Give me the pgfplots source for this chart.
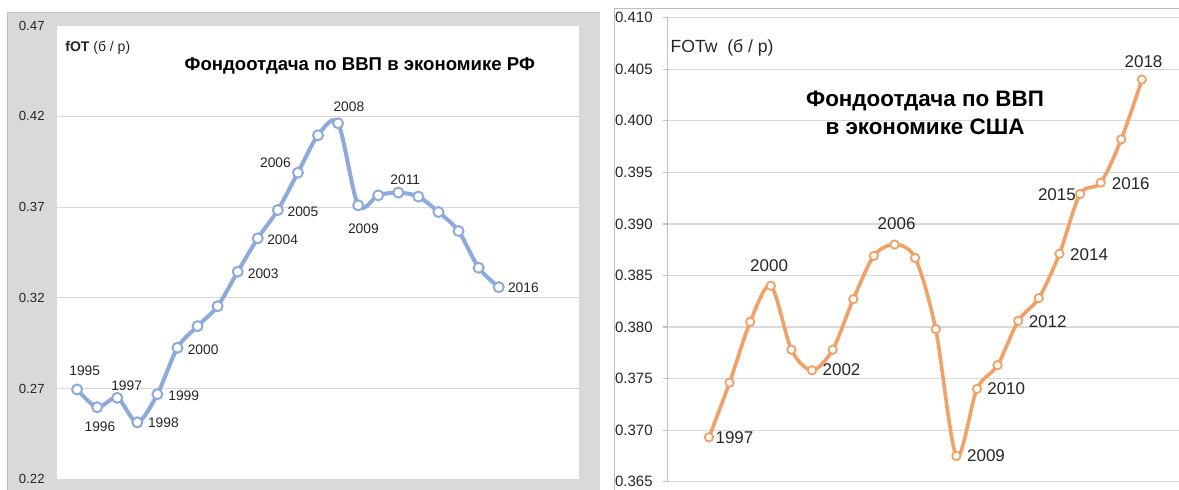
\documentclass[border=0pt]{standalone}
\usepackage{pgfplots}
\pgfplotsset{compat=1.18}
\usepackage{fontspec}
\setmainfont{Liberation Sans}
\definecolor{bluel}{HTML}{8EAADC}
\definecolor{orangel}{HTML}{F2A166}
\definecolor{gridc}{HTML}{D9D9D9}
\definecolor{framec}{HTML}{D9D9D9}
\definecolor{borderc}{HTML}{BFBFBF}
\definecolor{txt}{HTML}{262626}
\begin{document}
\begin{tikzpicture}
\path[use as bounding box] (0,0) rectangle (589.5pt,245pt);
\fill[framec] (3.5pt,0) rectangle (300pt,238.5pt);
\draw[borderc, line width=0.5pt] (3.5pt,0) -- (3.5pt,238.5pt) -- (300pt,238.5pt);
\draw[borderc, line width=0.5pt] (307pt,0) -- (307pt,240.5pt) -- (589.5pt,240.5pt);

% ---------- Left: Russia ----------
\begin{axis}[at={(28.5pt,5.35pt)}, anchor=south west, scale only axis,
  width=261pt, height=226.8pt,
  xmin=1994, xmax=2020, ymin=0.22, ymax=0.47,
  ytick={0.22,0.27,0.32,0.37,0.42,0.47},
  hide x axis, axis line style={draw=none},
  ymajorgrids, grid style={gridc, line width=0.6pt},
  major tick length=0pt,
  axis background/.style={fill=white},
  clip=false,
  /pgf/number format/assume math mode=true,
  y tick label style={/pgf/number format/.cd, fixed, fixed zerofill, precision=2, /tikz/.cd,
     font=\fontsize{6.6}{8}\selectfont, text=txt, inner sep=0pt, xshift=-6pt},
]
\addplot[bluel, line width=2pt, smooth, tension=0.5, mark=*, mark size=2.5pt,
  mark options={fill=white, draw=bluel, line width=1pt}] coordinates {
(1995,0.2695) (1996,0.2597) (1997,0.2649) (1998,0.2514) (1999,0.2669)
(2000,0.2925) (2001,0.3044) (2002,0.3154) (2003,0.3344) (2004,0.3528)
(2005,0.3684) (2006,0.3890) (2007,0.4096) (2008,0.4162) (2009,0.3710)
(2010,0.3765) (2011,0.3780) (2012,0.3758) (2013,0.3673) (2014,0.3568)
(2015,0.3366) (2016,0.3259)};
\begin{scope}[every node/.style={font=\fontsize{6.9}{8}\selectfont, text=txt, inner sep=0pt}]
\node at (axis cs:1995.38,0.2799) {1995};
\node at (axis cs:1996.14,0.2490) {1996};
\node at (axis cs:1997.47,0.2716) {1997};
\node at (axis cs:1999.30,0.2509) {1998};
\node at (axis cs:2000.31,0.2663) {1999};
\node at (axis cs:2001.28,0.2916) {2000};
\node at (axis cs:2004.27,0.3335) {2003};
\node at (axis cs:2005.24,0.3519) {2004};
\node at (axis cs:2006.25,0.3673) {2005};
\node at (axis cs:2004.88,0.3947) {2006};
\node at (axis cs:2008.54,0.4253) {2008};
\node at (axis cs:2009.26,0.3581) {2009};
\node at (axis cs:2011.35,0.3853) {2011};
\node at (axis cs:2017.23,0.3253) {2016};
\end{scope}
\end{axis}
\node[font=\fontsize{9.3}{11}\selectfont\bfseries, text=black] at (179.9pt,212pt) {Фондоотдача по ВВП в экономике РФ};
\node[anchor=west, inner sep=0pt, font=\fontsize{7}{8}\selectfont, text=txt] at (32.5pt,221.15pt) {\textbf{fOT} (б / р)};

% ---------- Right: USA ----------
\begin{axis}[at={(333.85pt,4.15pt)}, anchor=south west, scale only axis,
  width=255.65pt, height=232pt,
  xmin=1995, xmax=2019.8, ymin=0.365, ymax=0.410,
  ytick={0.365,0.370,0.375,0.380,0.385,0.390,0.395,0.400,0.405,0.410},
  hide x axis, axis y line*=left,
  y axis line style={borderc, line width=0.6pt},
  ymajorgrids, grid style={gridc, line width=0.6pt},
  tick align=outside, major tick length=2.5pt,
  tick style={borderc, line width=0.6pt},
  clip=false,
  /pgf/number format/assume math mode=true,
  y tick label style={/pgf/number format/.cd, fixed, fixed zerofill, precision=3, /tikz/.cd,
     font=\fontsize{7.5}{9}\selectfont, text=txt, inner sep=0pt, xshift=-4.85pt},
]
\addplot[orangel, line width=1.8pt, smooth, tension=0.5, mark=*, mark size=2.1pt,
  mark options={fill=white, draw=orangel, line width=0.9pt}] coordinates {
(1997,0.3693) (1998,0.3746) (1999,0.3805) (2000,0.3840) (2001,0.3778)
(2002,0.3758) (2003,0.3778) (2004,0.3827) (2005,0.3869) (2006,0.3880)
(2007,0.3867) (2008,0.3798) (2009,0.3675) (2010,0.3740) (2011,0.3763)
(2012,0.3806) (2013,0.3828) (2014,0.3871) (2015,0.3929) (2016,0.3940)
(2017,0.3982) (2018,0.4040)};
\begin{scope}[every node/.style={font=\fontsize{8.5}{10}\selectfont, text=txt, inner sep=0pt}]
\node at (axis cs:1998.24,0.36927) {1997};
\node at (axis cs:1999.92,0.38592) {2000};
\node at (axis cs:2003.43,0.37583) {2002};
\node at (axis cs:2006.10,0.38999) {2006};
\node at (axis cs:2010.44,0.36749) {2009};
\node at (axis cs:2011.42,0.37399) {2010};
\node at (axis cs:2013.43,0.38052) {2012};
\node at (axis cs:2015.44,0.38706) {2014};
\node at (axis cs:2013.88,0.39280) {2015};
\node at (axis cs:2017.46,0.39394) {2016};
\node at (axis cs:2018.08,0.40574) {2018};
\end{scope}
\end{axis}
\node[align=center, font=\fontsize{11.2}{13.7}\selectfont\bfseries, text=black] at (462.5pt,188.5pt) {Фондоотдача по ВВП\\в экономике США};
\node[anchor=west, inner sep=0pt, font=\fontsize{8.8}{10}\selectfont, text=txt] at (335.1pt,221.15pt) {FOTw\ \ (б / р)};
\end{tikzpicture}
\end{document}
